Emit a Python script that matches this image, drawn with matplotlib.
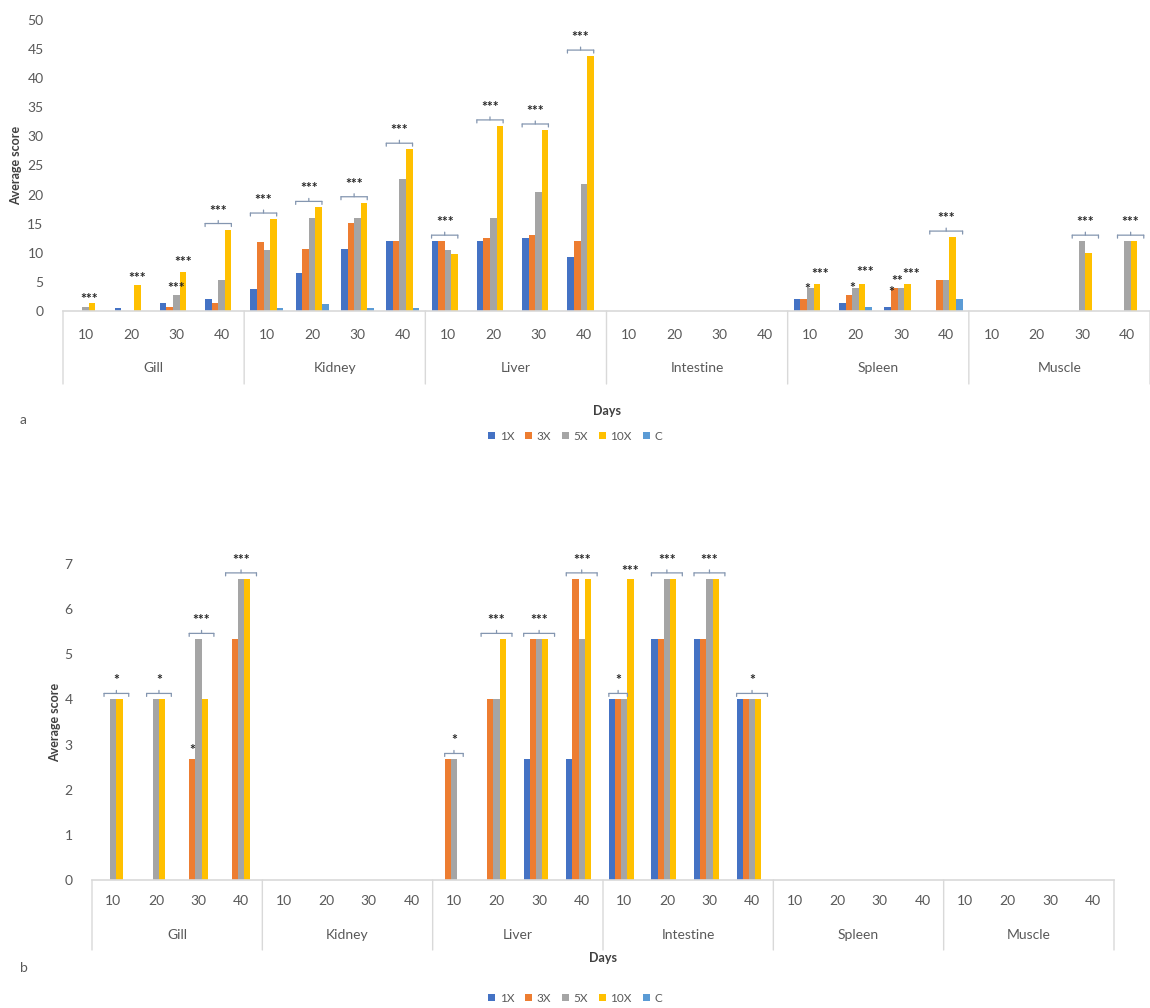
import matplotlib
matplotlib.use("Agg")
import matplotlib.pyplot as plt
from matplotlib import transforms
from matplotlib.patches import Patch
import numpy as np

plt.rcParams['font.family'] = ['Lato', 'DejaVu Sans']

organs = ["Gill", "Kidney", "Liver", "Intestine", "Spleen", "Muscle"]
days = ["10", "20", "30", "40"]
series = ["1X", "3X", "5X", "10X", "C"]
colors = ["#4472C4", "#ED7D31", "#A5A5A5", "#FFC000", "#5B9BD5"]

# Panel a: average score per organ/day (24 slots: organ-major, day-minor)
a_1x = [0, 0.5, 1.3, 2.0,   3.8, 6.5, 10.6, 12.0,  12.0, 12.0, 12.5, 9.2,
        0, 0, 0, 0,         2.0, 1.3, 0.7, 0,      0, 0, 0, 0]
a_3x = [0, 0, 0.7, 1.3,     11.9, 10.6, 15.1, 12.0, 12.0, 12.5, 13.0, 12.0,
        0, 0, 0, 0,         2.0, 2.7, 4.0, 5.3,    0, 0, 0, 0]
a_5x = [0.7, 0, 2.7, 5.3,   10.5, 15.9, 15.9, 22.6, 10.5, 15.9, 20.5, 21.8,
        0, 0, 0, 0,         4.0, 4.0, 4.0, 5.3,    0, 0, 12.0, 12.0]
a_10x = [1.3, 4.5, 6.7, 14.0, 15.8, 17.8, 18.6, 27.8, 9.8, 31.8, 31.1, 43.8,
         0, 0, 0, 0,          4.7, 4.7, 4.7, 12.7,  0, 0, 10.0, 12.0]
a_c = [0, 0, 0, 0,          0.6, 1.2, 0.6, 0.6,   0, 0, 0, 0,
       0, 0, 0, 0,          0, 0.7, 0, 2.0,        0, 0, 0, 0]

# Panel b
b_1x = [0, 0, 0, 0,   0, 0, 0, 0,   0, 0, 2.67, 2.67,   4.0, 5.33, 5.33, 4.0,
        0, 0, 0, 0,   0, 0, 0, 0]
b_3x = [0, 0, 2.67, 5.33,  0, 0, 0, 0,  2.67, 4.0, 5.33, 6.67,  4.0, 5.33, 5.33, 4.0,
        0, 0, 0, 0,   0, 0, 0, 0]
b_5x = [4.0, 4.0, 5.33, 6.67,  0, 0, 0, 0,  2.67, 4.0, 5.33, 5.33,  4.0, 6.67, 6.67, 4.0,
        0, 0, 0, 0,   0, 0, 0, 0]
b_10x = [4.0, 4.0, 4.0, 6.67,  0, 0, 0, 0,  0, 5.33, 5.33, 6.67,  6.67, 6.67, 6.67, 4.0,
         0, 0, 0, 0,   0, 0, 0, 0]
b_c = [0] * 24

# Significance marks: (slot, first bar, last bar, label, bracket, lift in px)
a_marks = [
    (0, 2, 3, "***", False, 4), (1, 3, 3, "***", False, 7),
    (2, 2, 2, "***", False, 7), (2, 3, 3, "***", False, 10),
    (3, 0, 3, "***", True, 0),
    (4, 0, 3, "***", True, 0), (5, 0, 3, "***", True, 0),
    (6, 0, 3, "***", True, 0), (7, 0, 3, "***", True, 0),
    (8, 0, 3, "***", True, 0), (9, 0, 3, "***", True, 0),
    (10, 0, 3, "***", True, 0), (11, 0, 3, "***", True, 0),
    (16, 1, 2, "*", False, -1), (16, 3, 4, "***", False, 10),
    (17, 1, 2, "*", False, 0), (17, 3, 4, "***", False, 12),
    (18, 0, 1, "*", False, -4), (18, 1, 2, "**", False, 7),
    (18, 3, 4, "***", False, 10),
    (19, 0, 4, "***", True, 0),
    (22, 1, 4, "***", True, 0), (23, 1, 4, "***", True, 0),
]
b_marks = [
    (0, 1, 4, "*", True, 0), (1, 1, 4, "*", True, 0),
    (2, 1, 1, "*", False, 9), (2, 1, 4, "***", True, 0),
    (3, 0, 4, "***", True, 0),
    (8, 1, 3, "*", True, 0), (9, 0, 4, "***", True, 0),
    (10, 0, 4, "***", True, 0), (11, 0, 4, "***", True, 0),
    (12, 0, 2, "*", True, 0), (12, 3, 3, "***", False, 8),
    (13, 0, 4, "***", True, 0), (14, 0, 4, "***", True, 0),
    (15, 0, 4, "*", True, 0),
]

W, H = 1150, 1008
fig = plt.figure(figsize=(W / 100, H / 100), dpi=100)

TXT = "#595959"
SEP = "#d9d9d9"
BRK = "#8496b0"
BW = 0.145


def px(p):
    return p * 0.72  # pixels to points at 100 dpi


def seg(ax, p0, t0, p1, t1, color, lw):
    ax.annotate("", xy=p1, xycoords=t1, xytext=p0, textcoords=t0,
                arrowprops=dict(arrowstyle='-', color=color, lw=lw,
                                shrinkA=0, shrinkB=0), annotation_clip=False)


def draw_panel(ax, vals, ymax, ystep, marks, letter, cat_px, org_px, sep_px,
               days_px, letter_px, legend_px, ylabel_x):
    vals = np.array(vals)
    slots = np.arange(24)
    for k in range(5):
        ax.bar(slots + (k - 2) * BW, vals[k], width=BW, color=colors[k],
               linewidth=0, zorder=2)
    ax.set_xlim(-0.5, 23.5)
    ax.set_ylim(0, ymax)
    ax.set_yticks(np.arange(0, ymax + 0.01, ystep))
    ax.tick_params(axis='y', length=0, labelsize=10, labelcolor=TXT, pad=14)
    ax.set_xticks([])
    for s in ["top", "right", "left"]:
        ax.spines[s].set_visible(False)
    ax.spines["bottom"].set_color(SEP)
    ax.spines["bottom"].set_linewidth(1.2)

    blend = transforms.blended_transform_factory(ax.transData, ax.transAxes)
    t_day = transforms.offset_copy(blend, fig=fig, y=-px(cat_px), units='points')
    for i in slots:
        ax.text(i, 0, days[i % 4], transform=t_day, ha='center', va='center',
                fontsize=10, color=TXT)
    t_org = transforms.offset_copy(blend, fig=fig, y=-px(org_px), units='points')
    for g, name in enumerate(organs):
        ax.text(g * 4 + 1.5, 0, name, transform=t_org, ha='center', va='center',
                fontsize=10, color=TXT)
    t_sep = transforms.offset_copy(blend, fig=fig, y=-px(sep_px), units='points')
    for g in range(7):
        x = g * 4 - 0.5
        seg(ax, (x, 0), blend, (x, 0), t_sep, SEP, 1.0)
    t_days = transforms.offset_copy(blend, fig=fig, y=-px(days_px), units='points')
    ax.text(11.5, 0, "Days", transform=t_days, ha='center', va='center',
            fontsize=9, color="#404040", fontweight='bold')
    fig.text(20 / W, 1 - letter_px / H, letter, ha='left', va='center',
             fontsize=10, color=TXT)
    ax.set_ylabel("Average score", fontsize=9, color="#404040",
                  fontweight='bold')
    ax.yaxis.set_label_coords(ylabel_x, 0.5)

    tb = transforms.offset_copy(ax.transData, fig=fig, y=px(6), units='points')
    tk = transforms.offset_copy(ax.transData, fig=fig, y=px(3), units='points')
    tm = transforms.offset_copy(ax.transData, fig=fig, y=px(9), units='points')
    for slot, k0, k1, label, bracket, lift in marks:
        top = vals[k0:k1 + 1, slot].max()
        x0 = slot + (k0 - 2) * BW - BW / 2
        x1 = slot + (k1 - 2) * BW + BW / 2
        xm = (x0 + x1) / 2
        if bracket:
            seg(ax, (x0, top), tb, (x1, top), tb, BRK, 0.9)
            seg(ax, (x0, top), tk, (x0, top), tb, BRK, 0.9)
            seg(ax, (x1, top), tk, (x1, top), tb, BRK, 0.9)
            seg(ax, (xm, top), tb, (xm, top), tm, BRK, 0.9)
            ax.annotate(label, (xm, top), xytext=(0, px(19)),
                        textcoords='offset points', ha='center', va='center',
                        fontsize=10, fontweight='bold', color="#262626",
                        annotation_clip=False)
        else:
            ax.annotate(label, (xm, top), xytext=(0, px(lift)),
                        textcoords='offset points', ha='center', va='center',
                        fontsize=10, fontweight='bold', color="#262626",
                        annotation_clip=False)

    handles = [Patch(facecolor=c, edgecolor='none') for c in colors]
    fig.legend(handles, series, loc='center', ncol=5,
               bbox_to_anchor=(575 / W, 1 - legend_px / H), frameon=False,
               fontsize=8.5, handlelength=0.6, handleheight=0.6,
               handletextpad=0.4, columnspacing=0.9, labelcolor=TXT)


ax_a = fig.add_axes([63 / W, 1 - 311 / H, (1150 - 63) / W, (311 - 20) / H])
draw_panel(ax_a, [a_1x, a_3x, a_5x, a_10x, a_c], 50, 5, a_marks, "a",
           cat_px=24, org_px=57, sep_px=73, days_px=100, letter_px=420,
           legend_px=436, ylabel_x=-0.038)

ax_b = fig.add_axes([92 / W, 1 - 880 / H, (1114 - 92) / W, (880 - 564) / H])
draw_panel(ax_b, [b_1x, b_3x, b_5x, b_10x, b_c], 7, 1, b_marks, "b",
           cat_px=21, org_px=55, sep_px=70, days_px=78, letter_px=968,
           legend_px=998, ylabel_x=-0.03)

fig.savefig("out.png", dpi=100)
